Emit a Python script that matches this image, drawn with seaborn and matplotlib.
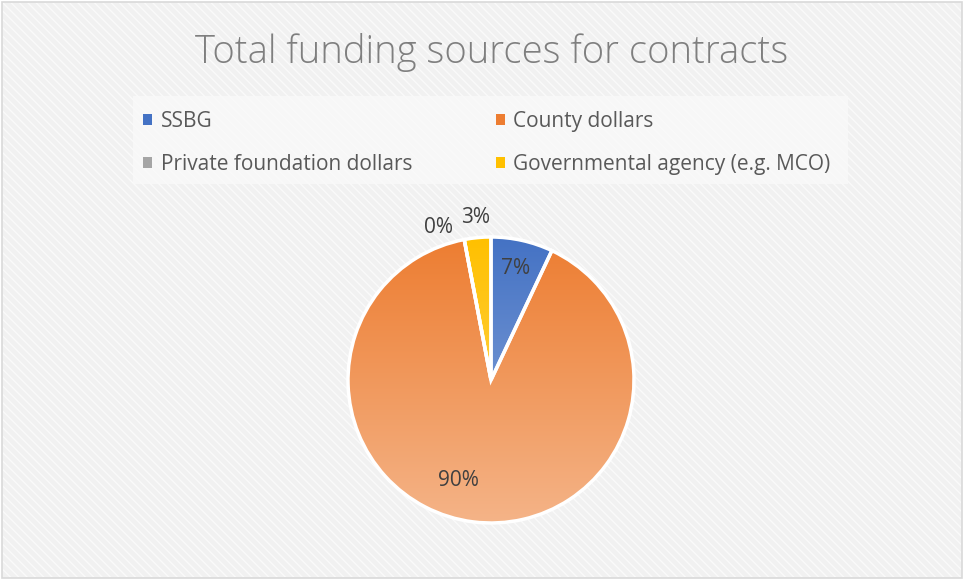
import numpy as np
import matplotlib
matplotlib.use("Agg")
import matplotlib.pyplot as plt
import matplotlib.colors as mcolors
from matplotlib.patches import Patch, Rectangle
import seaborn as sns

sns.set_theme(style="white")
plt.rcParams['font.family'] = ['Open Sans', 'DejaVu Sans']
plt.rcParams['hatch.color'] = "#FBFBFB"

title = "Total funding sources for contracts"
categories = ["SSBG", "County dollars", "Private foundation dollars", "Governmental agency (e.g. MCO)"]
values = [7, 90, 0, 3]
labels = ["7%", "90%", "0%", "3%"]
palette = sns.color_palette(["#4472C4", "#ED7D31", "#A5A5A5", "#FFC000"])

W, H = 964, 580
fig = plt.figure(figsize=(W / 100, H / 100), dpi=100)
fig.patch.set_facecolor("white")
bg = Rectangle((2 / W, 2 / H), 1 - 4 / W, 1 - 4 / H, transform=fig.transFigure,
               facecolor="#F1F1F1", edgecolor="#D9D9D9", lw=1.2, zorder=-3)
fig.patches.append(bg)
tex = Rectangle((3 / W, 3 / H), 1 - 6 / W, 1 - 6 / H, transform=fig.transFigure,
                facecolor="none", edgecolor="#FAFAFA", lw=0, hatch="\\\\\\\\", zorder=-2)
fig.patches.append(tex)
legbox = Rectangle((133 / W, 1 - 184 / H), 715 / W, 88 / H, transform=fig.transFigure,
                   facecolor="#F9F9F9", edgecolor="none", alpha=0.85, zorder=-1)
fig.patches.append(legbox)

fig.text(492 / W, 1 - 53 / H, title, ha="center", va="center", fontsize=27.5,
         color="#7F7F7F", fontweight="light")

cx, cy, r = 491, 380, 143
ax = fig.add_axes([(cx - r) / W, (H - cy - r) / H, 2 * r / W, 2 * r / H])
ax.patch.set_alpha(0)

wedges, _ = ax.pie(values, startangle=90, counterclock=False, radius=1,
                   wedgeprops=dict(facecolor="none", edgecolor="none"))

ny = 256
for w, col in zip(wedges, palette):
    base = np.array(mcolors.to_rgb(col))
    light = base + (1 - base) * 0.42
    t = np.linspace(0, 1, ny)[:, None]
    grad = (1 - t) * base + t * light
    img = np.repeat(grad[:, None, :], 2, axis=1)
    im = ax.imshow(img, extent=(-1, 1, -1, 1), origin="upper", aspect="auto",
                   interpolation="bilinear", zorder=1)
    im.set_clip_path(w)
    w.set_edgecolor("white")
    w.set_linewidth(2.5)
    w.set_zorder(2)
ax.set_xlim(-1, 1)
ax.set_ylim(-1, 1)
ax.set_aspect("auto")
ax.axis("off")

label_r = [0.8, 0.74, 1.13, 1.14]
label_shift = [0, -11, 8, 0]
for w, lab, rr, sh in zip(wedges, labels, label_r, label_shift):
    ang = np.deg2rad((w.theta1 + w.theta2) / 2 + sh)
    ax.text(rr * np.cos(ang), rr * np.sin(ang), lab, ha="center", va="center",
            fontsize=15, color="#404040", zorder=3, clip_on=False)

handles = [Patch(facecolor=c, edgecolor="none") for c in palette]
order = [0, 2, 1, 3]
leg = fig.legend([handles[i] for i in order], [categories[i] for i in order], ncol=2,
                 loc="upper left", bbox_to_anchor=(143 / W, 1 - 111 / H),
                 frameon=False, fontsize=15, handlelength=0.45, handleheight=0.45,
                 handletextpad=0.4, labelspacing=1.05, borderaxespad=0, borderpad=0,
                 columnspacing=4.0, labelcolor="#595959")

fig.savefig("out.png", dpi=100, facecolor=fig.get_facecolor())
